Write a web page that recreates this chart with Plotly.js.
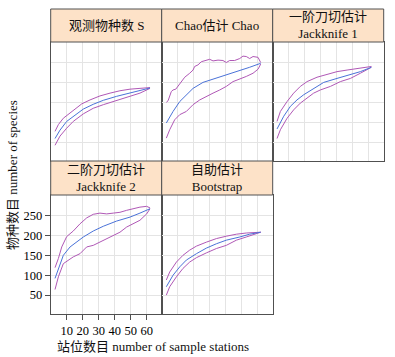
<!DOCTYPE html>
<html>
<head>
<meta charset="utf-8">
<script src="https://cdn.plot.ly/plotly-3.0.1.min.js"></script>
<style>
html,body{margin:0;padding:0;background:#fff;}
#chart{width:395px;height:357px;}
</style>
</head>
<body>
<div id="chart"></div>
<script>
// ---- Panel titles ----
const panelTitles = ["观测物种数 S", "Chao估计 Chao", "一阶刀切估计<br>Jackknife 1", "二阶刀切估计<br>Jackknife 2", "自助估计<br>Bootstrap"];
const xTicks = [10, 20, 30, 40, 50, 60];
const yTicks = [50, 100, 150, 200, 250];
const xTitle = "站位数目 number of sample stations";
const yTitle = "物种数目 number of species";

// ---- Panel 1: observed S ----
const sMeanX = [2.7,5.8,10,14.1,20.4,26.6,32.9,41.2,49.6,55.8,62.1];
const sMean  = [59,80,102,115,133,145,155,165,173,180,186];
const sUpX   = [2.7,4.8,7.9,14.1,19.4,24.6,30.8,37.1,43.3,49.6,55.8,62.1];
const sUp    = [77,94,110,130,146,156,166,173,179,183,185,187];
const sLoX   = [2.7,5.8,10,14.1,20.4,26.6,32.9,41.2,49.6,55.8,62.1];
const sLo    = [42,65,85,102,121,135,144,155,165,173,185];

// ---- Panel 2: Chao ----
const chaoMeanX = [2.9,7.1,11.3,15.4,19.6,25.8,32.1,40.4,48.8,55,61.9];
const chaoMean  = [98,127,152,169,185,200,208,219,230,238,248];
const chaoUpX   = [2.9,4,6,7.1,8.8,10.2,12.3,14.4,17.5,19.6,20.6,22.7,24.8,27.9,30,32.1,35.2,38.3,40.4,42.5,45.6,48.8,50.8,52.9,55,57.1,60.2,61.9];
const chaoUp    = [150,154,177,181,183,190,202,213,223,231,240,244,252,256,258,254,256,255,250,255,255,260,266,265,260,265,263,250];
const chaoLoX   = [2.9,5,8.1,11.3,15.4,19.6,23.8,27.9,32.1,36.3,40.4,44.6,48.8,52.9,57.1,60.2,61.9];
const chaoLo    = [60,81,106,119,127,144,156,165,173,181,190,202,208,215,223,233,246];

// ---- Panel 3: Jackknife 1 ----
const jk1MeanX = [2.7,6.9,11.1,15.2,19.4,25.6,31.9,40.2,48.6,54.8,61.7];
const jk1Mean  = [83,115,140,156,169,185,200,210,219,227,238];
const jk1UpX   = [2.7,4.8,9,13.1,17.3,21.5,27.7,34,40.2,46.5,52.7,56.9,61.7];
const jk1Up    = [102,127,152,173,190,202,213,221,227,231,235,238,240];
const jk1LoX   = [2.7,4.8,9,13.1,17.3,21.5,25.6,29.8,36.1,42.3,48.6,54.8,61.7];
const jk1Lo    = [59,81,110,131,148,160,173,181,190,202,210,223,238];

// ---- Panel 4: Jackknife 2 ----
const jk2MeanX = [2.7,4.8,7.9,12.1,16.2,20.4,26.6,32.9,41.2,49.6,55.8,62.1];
const jk2Mean  = [92,117,150,171,183,196,211,223,236,246,256,267];
const jk2UpX   = [2.7,4.8,6.9,10,14.1,18.3,22.5,26.6,30.8,35,39.1,43.3,47.5,51.6,55.8,60,62.1];
const jk2Up    = [119,142,171,197,211,229,244,253,256,254,256,258,263,267,271,273,269];
const jk2LoX   = [2.7,4.8,7.9,11,14.1,18.3,22.5,26.6,30.8,35,39.1,43.3,47.5,51.6,55.8,60,62.1];
const jk2Lo    = [64,96,129,138,146,154,171,175,183,192,198,208,221,229,238,254,267];

// ---- Panel 5: Bootstrap ----
const bootMeanX = [2.9,7.1,11.3,15.4,21.7,27.9,34.2,40.4,48.8,55,61.9];
const bootMean  = [71,100,121,138,154,168,179,188,196,203,208];
const bootUpX   = [2.9,5,9.2,13.3,17.5,21.7,27.9,34.2,40.4,46.7,52.9,59.2,61.9];
const bootUp    = [88,108,133,150,163,173,183,192,198,203,206,208,208];
const bootLoX   = [2.9,5,9.2,13.3,17.5,21.7,27.9,34.2,40.4,46.7,52.9,59.2,61.9];
const bootLo    = [50,71,96,117,133,144,156,167,175,188,196,204,208];

const panels = [
  {mx:sMeanX, m:sMean, ux:sUpX, u:sUp, lx:sLoX, l:sLo},
  {mx:chaoMeanX, m:chaoMean, ux:chaoUpX, u:chaoUp, lx:chaoLoX, l:chaoLo},
  {mx:jk1MeanX, m:jk1Mean, ux:jk1UpX, u:jk1Up, lx:jk1LoX, l:jk1Lo},
  {mx:jk2MeanX, m:jk2Mean, ux:jk2UpX, u:jk2Up, lx:jk2LoX, l:jk2Lo},
  {mx:bootMeanX, m:bootMean, ux:bootUpX, u:bootUp, lx:bootLoX, l:bootLo}
];

const W = 395, H = 357;
const colPx = [[50.7,161.7],[161.7,272.7],[272.7,383.7]];
const rowPlotPx = [[42,161],[195,314]];
const rowStripPx = [[9,42],[161,195]];
const px2x = p => p / W;
const px2y = p => 1 - p / H;

const BLUE = '#4a72d8', MAG = '#b058b6';
const FONT = '"Liberation Serif", "Times New Roman", "Noto Sans CJK SC", serif';
const frameColor = '#505050';

const data = [];
const layout = {
  width: W, height: H,
  margin: {l:0, r:0, t:0, b:0},
  paper_bgcolor: '#fff', plot_bgcolor: '#fff',
  showlegend: false,
  font: {family: FONT, size: 12, color: '#000'},
  shapes: [], annotations: []
};

panels.forEach((p, i) => {
  const row = i < 3 ? 0 : 1;
  const col = i % 3;
  const n = i + 1;
  const xa = 'x' + (n === 1 ? '' : n), ya = 'y' + (n === 1 ? '' : n);
  const isAxisPanel = (i === 3);
  [[p.ux, p.u, MAG], [p.lx, p.l, MAG], [p.mx, p.m, BLUE]].forEach(([xs, ys, c]) => {
    data.push({x: xs, y: ys, type: 'scatter', mode: 'lines', xaxis: xa, yaxis: ya,
      line: {color: c, width: 1}, hoverinfo: 'skip'});
  });
  const xd = [px2x(colPx[col][0]), px2x(colPx[col][1])];
  const yd = [px2y(rowPlotPx[row][1]), px2y(rowPlotPx[row][0])];
  layout['xaxis' + (n === 1 ? '' : n)] = {
    domain: xd, anchor: ya, range: [0, 69.4],
    tickvals: xTicks, ticktext: xTicks.map(String),
    showgrid: true, gridcolor: '#e4e4e4', gridwidth: 1, zeroline: false,
    showline: true, mirror: true, linecolor: frameColor, linewidth: 1,
    ticks: isAxisPanel ? 'outside' : '', ticklen: 5, tickcolor: frameColor,
    showticklabels: isAxisPanel, tickfont: {family: FONT, size: 12.5, color: '#000'}
  };
  layout['yaxis' + (n === 1 ? '' : n)] = {
    domain: yd, anchor: xa, range: [2.5, 301.5],
    tickvals: yTicks, ticktext: yTicks.map(String),
    showgrid: true, gridcolor: '#e4e4e4', gridwidth: 1, zeroline: false,
    showline: true, mirror: true, linecolor: frameColor, linewidth: 1,
    ticks: isAxisPanel ? 'outside' : '', ticklen: 5, tickcolor: frameColor,
    showticklabels: isAxisPanel, tickfont: {family: FONT, size: 12.5, color: '#000'}
  };
  // strip
  layout.shapes.push({type: 'rect', xref: 'paper', yref: 'paper',
    x0: xd[0], x1: xd[1], y0: px2y(rowStripPx[row][1]), y1: px2y(rowStripPx[row][0]),
    fillcolor: '#fde2c8', line: {color: frameColor, width: 1}});
  layout.annotations.push({xref: 'paper', yref: 'paper',
    x: (xd[0] + xd[1]) / 2, y: px2y((rowStripPx[row][0] + rowStripPx[row][1]) / 2),
    xanchor: 'center', yanchor: 'middle', showarrow: false,
    text: panelTitles[i], font: {family: FONT, size: 13, color: '#111'}});
});

layout.annotations.push({xref: 'paper', yref: 'paper', x: px2x(152.5), y: px2y(346),
  xanchor: 'center', yanchor: 'middle', showarrow: false, text: xTitle,
  font: {family: FONT, size: 13, color: '#111'}});
layout.annotations.push({xref: 'paper', yref: 'paper', x: px2x(12), y: px2y(175),
  xanchor: 'center', yanchor: 'middle', showarrow: false, text: yTitle, textangle: -90,
  font: {family: FONT, size: 13, color: '#111'}});

Plotly.newPlot('chart', data, layout, {staticPlot: true, displayModeBar: false});
</script>
</body>
</html>
